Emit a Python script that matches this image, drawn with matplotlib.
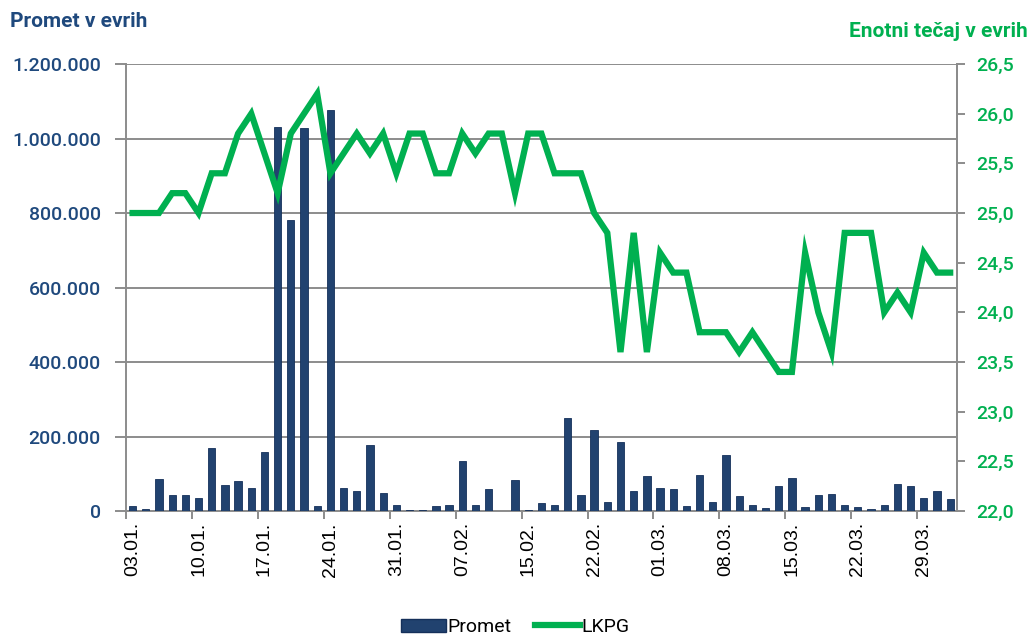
import matplotlib
matplotlib.use('Agg')
import matplotlib.pyplot as plt
from matplotlib.ticker import FuncFormatter, FixedLocator
from matplotlib.lines import Line2D
from matplotlib.patches import Patch

# business days 03.01. - 31.03. (08.02. holiday)
dates = ['03.01.', '04.01.', '05.01.', '06.01.', '07.01.',
         '10.01.', '11.01.', '12.01.', '13.01.', '14.01.',
         '17.01.', '18.01.', '19.01.', '20.01.', '21.01.',
         '24.01.', '25.01.', '26.01.', '27.01.', '28.01.',
         '31.01.', '01.02.', '02.02.', '03.02.', '04.02.',
         '07.02.', '09.02.', '10.02.', '11.02.', '14.02.',
         '15.02.', '16.02.', '17.02.', '18.02.', '21.02.',
         '22.02.', '23.02.', '24.02.', '25.02.', '28.02.',
         '01.03.', '02.03.', '03.03.', '04.03.', '07.03.',
         '08.03.', '09.03.', '10.03.', '11.03.', '14.03.',
         '15.03.', '16.03.', '17.03.', '18.03.', '21.03.',
         '22.03.', '23.03.', '24.03.', '25.03.', '28.03.',
         '29.03.', '30.03.', '31.03.']

promet = [13000, 4500, 87000, 42000, 42000,
          35000, 169000, 71000, 80000, 62000,
          158000, 1031000, 781000, 1027000, 13000,
          1076000, 63000, 54000, 176000, 48000,
          15000, 3000, 3000, 12500, 15000,
          133000, 15000, 60000, 0, 84000,
          3000, 21000, 16000, 250000, 42000,
          217000, 24000, 184000, 54000, 93000,
          63000, 60000, 13000, 98000, 24000,
          150000, 39000, 17000, 8000, 68000,
          88000, 11000, 42000, 47000, 17000,
          11000, 5000, 17000, 73000, 66000,
          36000, 53000, 33000]

lkpg = [25.0, 25.0, 25.0, 25.2, 25.2,
        25.0, 25.4, 25.4, 25.8, 26.0,
        25.6, 25.2, 25.8, 26.0, 26.2,
        25.4, 25.6, 25.8, 25.6, 25.8,
        25.4, 25.8, 25.8, 25.4, 25.4,
        25.8, 25.6, 25.8, 25.8, 25.2,
        25.8, 25.8, 25.4, 25.4, 25.4,
        25.0, 24.8, 23.6, 24.8, 23.6,
        24.6, 24.4, 24.4, 23.8, 23.8,
        23.8, 23.6, 23.8, 23.6, 23.4,
        23.4, 24.6, 24.0, 23.6, 24.8,
        24.8, 24.8, 24.0, 24.2, 24.0,
        24.6, 24.4, 24.4]

navy = '#21426F'
blue_txt = '#1F497D'
green = '#00B050'
grey = '#8C8C8C'

fig = plt.figure(figsize=(10.31, 6.44), dpi=100)
ax = fig.add_axes([0.1222, 0.2065, 0.8058, 0.6941])
x = list(range(len(dates)))

ax.bar(x, promet, width=0.55, color=navy, edgecolor='#15305A', linewidth=0.6, zorder=3)
ax.set_ylim(0, 1200000)
ax.set_xlim(-0.5, len(dates) - 0.5)
ax.set_yticks(range(0, 1200001, 200000))
ax.yaxis.set_major_formatter(FuncFormatter(lambda v, p: f'{v:,.0f}'.replace(',', '.')))
ax.grid(axis='y', color=grey, linewidth=1.4, zorder=0)
ax.set_axisbelow(True)

# labels at every 5th day, ticks on category boundaries
ax.set_xticks(x[::5])
ax.set_xticklabels(dates[::5], rotation=90, fontsize=14, family='Liberation Sans')
ax.tick_params(axis='x', which='major', length=0, pad=8)
ax.xaxis.set_minor_locator(FixedLocator([i - 0.5 for i in x[::5]]))
ax.tick_params(axis='x', which='minor', length=6, width=1.4, color=grey)
ax.tick_params(axis='y', length=8, width=1.4, color=grey, labelsize=14,
               labelcolor=blue_txt, pad=10)
for t in ax.get_yticklabels():
    t.set_family('Roboto')
    t.set_fontweight('medium')

ax.spines['top'].set_visible(False)
for s in ['left', 'bottom', 'right']:
    ax.spines[s].set_color(grey)
    ax.spines[s].set_linewidth(1.4)

ax2 = ax.twinx()
ax2.plot(x, lkpg, color=green, linewidth=4.5, solid_joinstyle='miter', zorder=4)
ax2.set_ylim(22, 26.5)
ax2.set_yticks([22 + 0.5 * i for i in range(10)])
ax2.yaxis.set_major_formatter(FuncFormatter(lambda v, p: f'{v:.1f}'.replace('.', ',')))
ax2.tick_params(axis='y', length=6, width=1.4, color=grey, labelsize=14,
                labelcolor=green, pad=8)
for t in ax2.get_yticklabels():
    t.set_family('Roboto')
    t.set_fontweight('medium')
for s in ['top', 'left', 'bottom']:
    ax2.spines[s].set_visible(False)
ax2.spines['right'].set_color(grey)
ax2.spines['right'].set_linewidth(1.4)

fig.text(0.01, 0.966, 'Promet v evrih', color=blue_txt, fontsize=15,
         fontweight='bold', family='Roboto', va='center', ha='left')
fig.text(0.997, 0.951, 'Enotni tečaj v evrih', color=green, fontsize=15,
         fontweight='bold', family='Roboto', va='center', ha='right')

handles = [Patch(facecolor=navy, edgecolor='#15305A'),
           Line2D([0], [0], color=green, linewidth=4.5)]
fig.legend(handles, ['Promet', 'LKPG'], loc='center', bbox_to_anchor=(0.5, 0.026),
           ncol=2, frameon=False, prop={'family': 'Roboto', 'size': 14},
           handlelength=2.3, handletextpad=0.1, columnspacing=1.2)

fig.savefig('out.png', dpi=100)
